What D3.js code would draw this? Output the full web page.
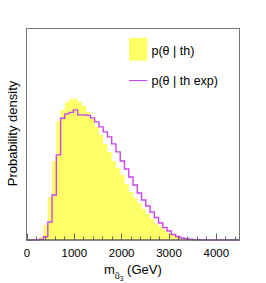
<!DOCTYPE html>
<html><head><meta charset="utf-8">
<script src="https://cdn.jsdelivr.net/npm/d3@7/dist/d3.min.js"></script>
<style>body{margin:0;background:#fff}svg{display:block}text{font-family:"Liberation Sans",Arial,Helvetica,sans-serif;fill:#000}</style>
</head><body>
<script>
// bin edges (GeV), 50 bins of 90 GeV over 0-4500
const binEdges = [0,90,180,270,360,450,540,630,720,810,900,990,1080,1170,1260,1350,1440,1530,1620,1710,1800,1890,1980,2070,2160,2250,2340,2430,2520,2610,2700,2790,2880,2970,3060,3150,3240,3330,3420,3510,3600,3690,3780,3870,3960,4050,4140,4230,4320,4410,4500];
// p(theta | th)  (arbitrary units)
const pTh = [0,0,0.005,0.03,0.15,0.43,0.79,1.19,1.30,1.377,1.407,1.413,1.38,1.34,1.28,1.21,1.13,1.05,0.96,0.88,0.79,0.72,0.65,0.56,0.48,0.42,0.37,0.31,0.26,0.21,0.165,0.13,0.10,0.07,0.05,0.03,0.02,0.012,0.006,0.003,0.002,0,0,0,0,0,0,0,0,0];
// p(theta | th exp)
const pThExp = [0,0,0,0.007,0.033,0.18,0.45,0.85,1.217,1.26,1.275,1.30,1.25,1.25,1.245,1.22,1.18,1.13,1.08,1.03,0.96,0.88,0.79,0.71,0.63,0.55,0.47,0.40,0.34,0.28,0.225,0.17,0.125,0.09,0.055,0.035,0.02,0.012,0.007,0.004,0.002,0,0,0,0,0,0,0,0,0];
const xTickLabels = [0,1000,2000,3000,4000];
const legendLabels = ["p(\u03b8 | th)", "p(\u03b8 | th exp)"];
const yMax = 2.113;

const W = 266, H = 283;
const L = 26.5, R = 239.5, T = 28.5, B = 240;
const svg = d3.select("body").append("svg").attr("width", W).attr("height", H);

const x = d3.scaleLinear().domain([0, 4500]).range([L, R]);
const y = d3.scaleLinear().domain([0, yMax]).range([B, T]);

function stepPts(vals){
  const pts = vals.map((v,i)=>[binEdges[i], v]);
  pts.push([binEdges[binEdges.length-1], vals[vals.length-1]]);
  return pts;
}

// yellow filled histogram
svg.append("path")
  .attr("d", d3.area().x(d=>x(d[0])).y0(y(0)).y1(d=>y(d[1])).curve(d3.curveStepAfter)(stepPts(pTh)))
  .attr("fill", "#ffff66");

// purple step line
svg.append("path")
  .attr("d", d3.line().x(d=>x(d[0])).y(d=>y(d[1])).curve(d3.curveStepAfter)(stepPts(pThExp)))
  .attr("fill", "none").attr("stroke", "#cc44ee").attr("stroke-width", 1.4);

// frame
svg.append("rect").attr("x", L).attr("y", T).attr("width", R-L).attr("height", B-T)
  .attr("fill", "none").attr("stroke", "#777").attr("stroke-width", 1);

// x axis ticks (inside, upwards)
const minorTicks = d3.range(0, 4501, 200);
svg.append("g").selectAll("line").data(minorTicks).join("line")
  .attr("x1", d=>Math.round(x(d))+0.5).attr("x2", d=>Math.round(x(d))+0.5)
  .attr("y1", B).attr("y2", d=> d%1000===0 ? B-6.5 : B-3.5)
  .attr("stroke", "#666").attr("stroke-width", 1);
svg.append("line").attr("x1", L).attr("x2", R).attr("y1", B).attr("y2", B).attr("stroke","#555");

const xAxis = d3.axisBottom(x).tickValues(xTickLabels).tickSize(0).tickPadding(0).tickFormat(d3.format("d"));
const gx = svg.append("g").attr("transform", `translate(0,${B})`).call(xAxis);
gx.select(".domain").remove();
gx.selectAll("text").attr("dy", null).attr("y", 16.5).attr("font-size", "11.5px")
  .style("font-family", '"Liberation Sans",Arial,sans-serif').attr("fill", "#000");

// x title
const xt = svg.append("text").attr("x", 104).attr("y", 274).attr("font-size", "13px");
xt.append("tspan").text("m");
xt.append("tspan").attr("dy", 4.5).attr("font-size", "9px").text("\u0169");
xt.append("tspan").attr("dy", 2).attr("font-size", "6.5px").text("3");
xt.append("tspan").attr("dy", -6.5).attr("font-size", "13px").text(" (GeV)");

// y title
svg.append("text").attr("transform", "translate(16.5,133.5) rotate(-90)")
  .attr("text-anchor", "middle").attr("font-size", "13px").text("Probability density");

// legend
svg.append("rect").attr("x", 129).attr("y", 37.7).attr("width", 18.3).attr("height", 23).attr("fill", "#ffff66");
svg.append("line").attr("x1", 129).attr("x2", 147.3).attr("y1", 80.5).attr("y2", 80.5)
  .attr("stroke", "#cc44ee").attr("stroke-width", 1);
svg.append("text").attr("x", 151.5).attr("y", 54.5).attr("font-size", "12.5px").text(legendLabels[0]);
svg.append("text").attr("x", 151.5).attr("y", 84.7).attr("font-size", "12.5px").text(legendLabels[1]);
</script>
</body></html>
